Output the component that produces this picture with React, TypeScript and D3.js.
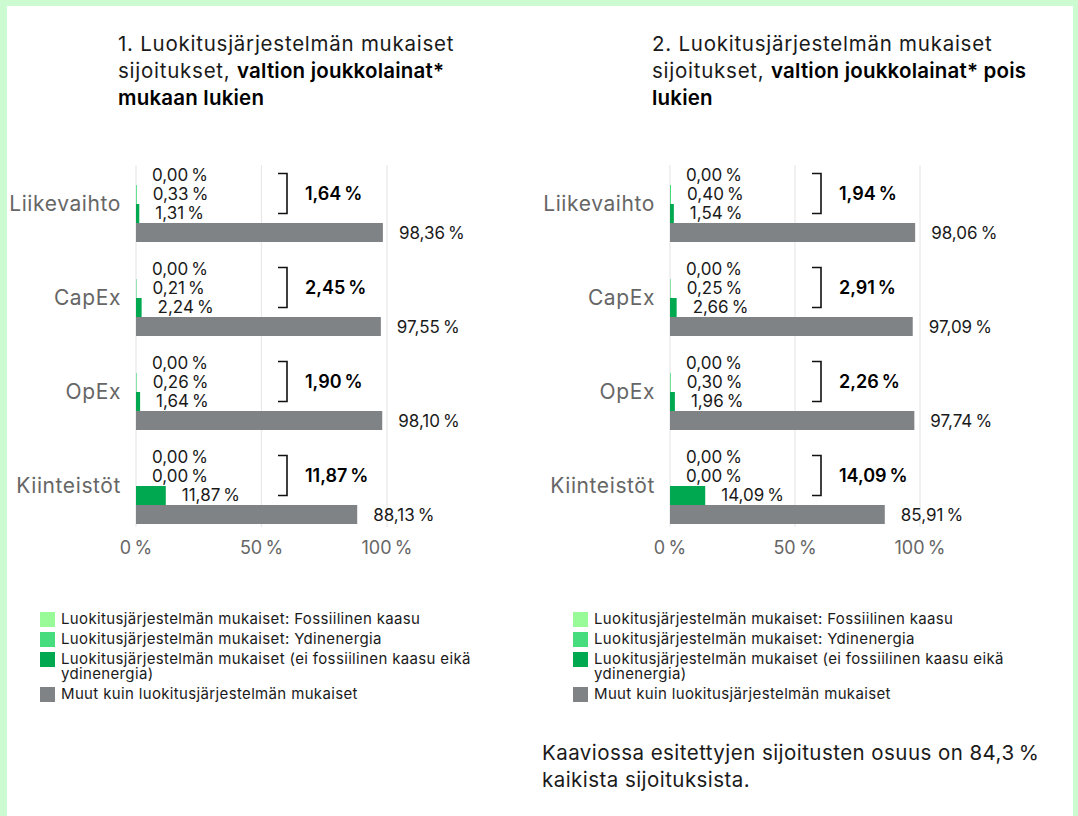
import React from "react";
import * as d3 from "d3";

const categories = ["Liikevaihto", "CapEx", "OpEx", "Kiinteistöt"];
const seriesKeys = ["fossil", "nuclear", "aligned", "other"];
const seriesNames = [
  "Luokitusjärjestelmän mukaiset: Fossiilinen kaasu",
  "Luokitusjärjestelmän mukaiset: Ydinenergia",
  "Luokitusjärjestelmän mukaiset (ei fossiilinen kaasu eikä|ydinenergia)",
  "Muut kuin luokitusjärjestelmän mukaiset",
];
const seriesColors = ["#98FB98", "#47DD7E", "#00A94F", "#7F8386"];

const fossil1 = [0.0, 0.0, 0.0, 0.0];
const nuclear1 = [0.33, 0.21, 0.26, 0.0];
const aligned1 = [1.31, 2.24, 1.64, 11.87];
const other1 = [98.36, 97.55, 98.1, 88.13];
const total1 = [1.64, 2.45, 1.9, 11.87];

const fossil2 = [0.0, 0.0, 0.0, 0.0];
const nuclear2 = [0.4, 0.25, 0.3, 0.0];
const aligned2 = [1.54, 2.66, 1.96, 14.09];
const other2 = [98.06, 97.09, 97.74, 85.91];
const total2 = [1.94, 2.91, 2.26, 14.09];

const xTicks = [0, 50, 100];

const FONT = "Inter, 'Noto Sans', sans-serif";
const fmt = (v: number) => v.toFixed(2).replace(".", ",") + "\u202F%";

type PanelProps = {
  x0: number;
  x1: number;
  title: [string, string][];
  series: number[][];
  totals: number[];
  legendX: number;
};

function Panel({ x0, x1, title, series, totals, legendX }: PanelProps) {
  const x = d3.scaleLinear().domain([0, 100]).range([x0, x1]);
  const y = d3.scaleBand<string>().domain(categories).range([157, 533]).padding(0);
  const inner = d3.scaleBand<string>().domain(seriesKeys).range([9, 85]).padding(0);
  const bh = inner.bandwidth();
  return (
    <g>
      {/* title */}
      <text x={x0 - 18} y={51} fontSize={20.5} fill="#1a1a1a" fontFamily={FONT} letterSpacing={0.75}>
        {title.map((ln, i) => (
          <tspan key={i} x={x0 - 18} y={51 + i * 27}>
            {ln[0]}
            {ln[1] ? <tspan fontWeight={600} fill="#000" letterSpacing={0.2}>{ln[1]}</tspan> : null}
          </tspan>
        ))}
      </text>
      {/* gridlines */}
      {xTicks.map((t) => (
        <line key={t} x1={x(t)} x2={x(t)} y1={165} y2={527} stroke="#e8e8e8" strokeWidth={1.2} />
      ))}
      {xTicks.map((t) => (
        <text key={"l" + t} x={x(t)} y={554} textAnchor="middle" fontSize={18} fill="#666" fontFamily={FONT} letterSpacing={0.3}>
          {t + "\u202F%"}
        </text>
      ))}
      {categories.map((c, ci) => {
        const gy = y(c)!;
        const bot = gy + inner(seriesKeys[2])! + bh / 2;
        const topY = gy + inner(seriesKeys[0])! + bh / 2;
        const bx = x(0) + 142;
        return (
          <g key={c}>
            <text x={x0 - 15} y={gy + 9 + 2 * bh + 7} textAnchor="end" fontSize={21} fill="#666" fontFamily={FONT} letterSpacing={0.6}>
              {c}
            </text>
            {seriesKeys.map((k, si) => {
              const v = series[si][ci];
              const by = gy + inner(k)!;
              return (
                <g key={k}>
                  <rect x={x(0)} y={by} width={Math.max(0, x(v) - x(0))} height={bh} fill={seriesColors[si]} />
                  <text
                    x={x(v) + 16}
                    y={by + bh / 2 + (si === 3 ? 1 : 0)}
                    dy="0.35em"
                    fontSize={17}
                    fill="#1a1a1a"
                    fontFamily={FONT}
                    letterSpacing={0.1}
                  >
                    {fmt(v)}
                  </text>
                </g>
              );
            })}
            <path
              d={`M${bx},${topY - 2}H${bx + 9}V${bot}H${bx}`}
              fill="none"
              stroke="#111"
              strokeWidth={1.6}
            />
            <text x={x(0) + 169} y={(topY + bot) / 2 - 1} dy="0.35em" fontSize={18} fontWeight={600} fill="#000" fontFamily={FONT} letterSpacing={-0.4}>
              {fmt(totals[ci])}
            </text>
          </g>
        );
      })}
      {/* legend */}
      {seriesNames.map((n, i) => {
        const rowY = [612, 632, 652, 687][i];
        const lines = n.split("|");
        return (
          <g key={n}>
            <rect x={legendX} y={rowY} width={15} height={15} fill={seriesColors[i]} />
            <text fontSize={15} fill="#1a1a1a" fontFamily={FONT} letterSpacing={0.35}>
              {lines.map((l, li) => (
                <tspan key={li} x={legendX + 21} y={rowY + 12 + li * 15}>
                  {l}
                </tspan>
              ))}
            </text>
          </g>
        );
      })}
    </g>
  );
}

export default function App() {
  return (
    <svg
      width={1078}
      height={816}
      style={{ position: "absolute", left: 0, top: 0, display: "block" }}
    >
      <rect x={0} y={0} width={1078} height={816} fill="#CCFBD1" />
      <rect x={7} y={6} width={1066} height={810} fill="#fff" />
      <Panel
        x0={136}
        x1={387}
        title={[
          ["1. Luokitusjärjestelmän mukaiset", ""],
          ["sijoitukset, ", "valtion joukkolainat*"],
          ["", "mukaan lukien"],
        ]}
        series={[fossil1, nuclear1, aligned1, other1]}
        totals={total1}
        legendX={40}
      />
      <Panel
        x0={670}
        x1={920}
        title={[
          ["2. Luokitusjärjestelmän mukaiset", ""],
          ["sijoitukset, ", "valtion joukkolainat* pois"],
          ["", "lukien"],
        ]}
        series={[fossil2, nuclear2, aligned2, other2]}
        totals={total2}
        legendX={573}
      />
      <text fontSize={20.5} fill="#1a1a1a" fontFamily={FONT} letterSpacing={0.45}>
        <tspan x={542} y={760}>Kaaviossa esitettyjen sijoitusten osuus on 84,3{"\u202F"}%</tspan>
        <tspan x={542} y={787}>kaikista sijoituksista.</tspan>
      </text>
    </svg>
  );
}
